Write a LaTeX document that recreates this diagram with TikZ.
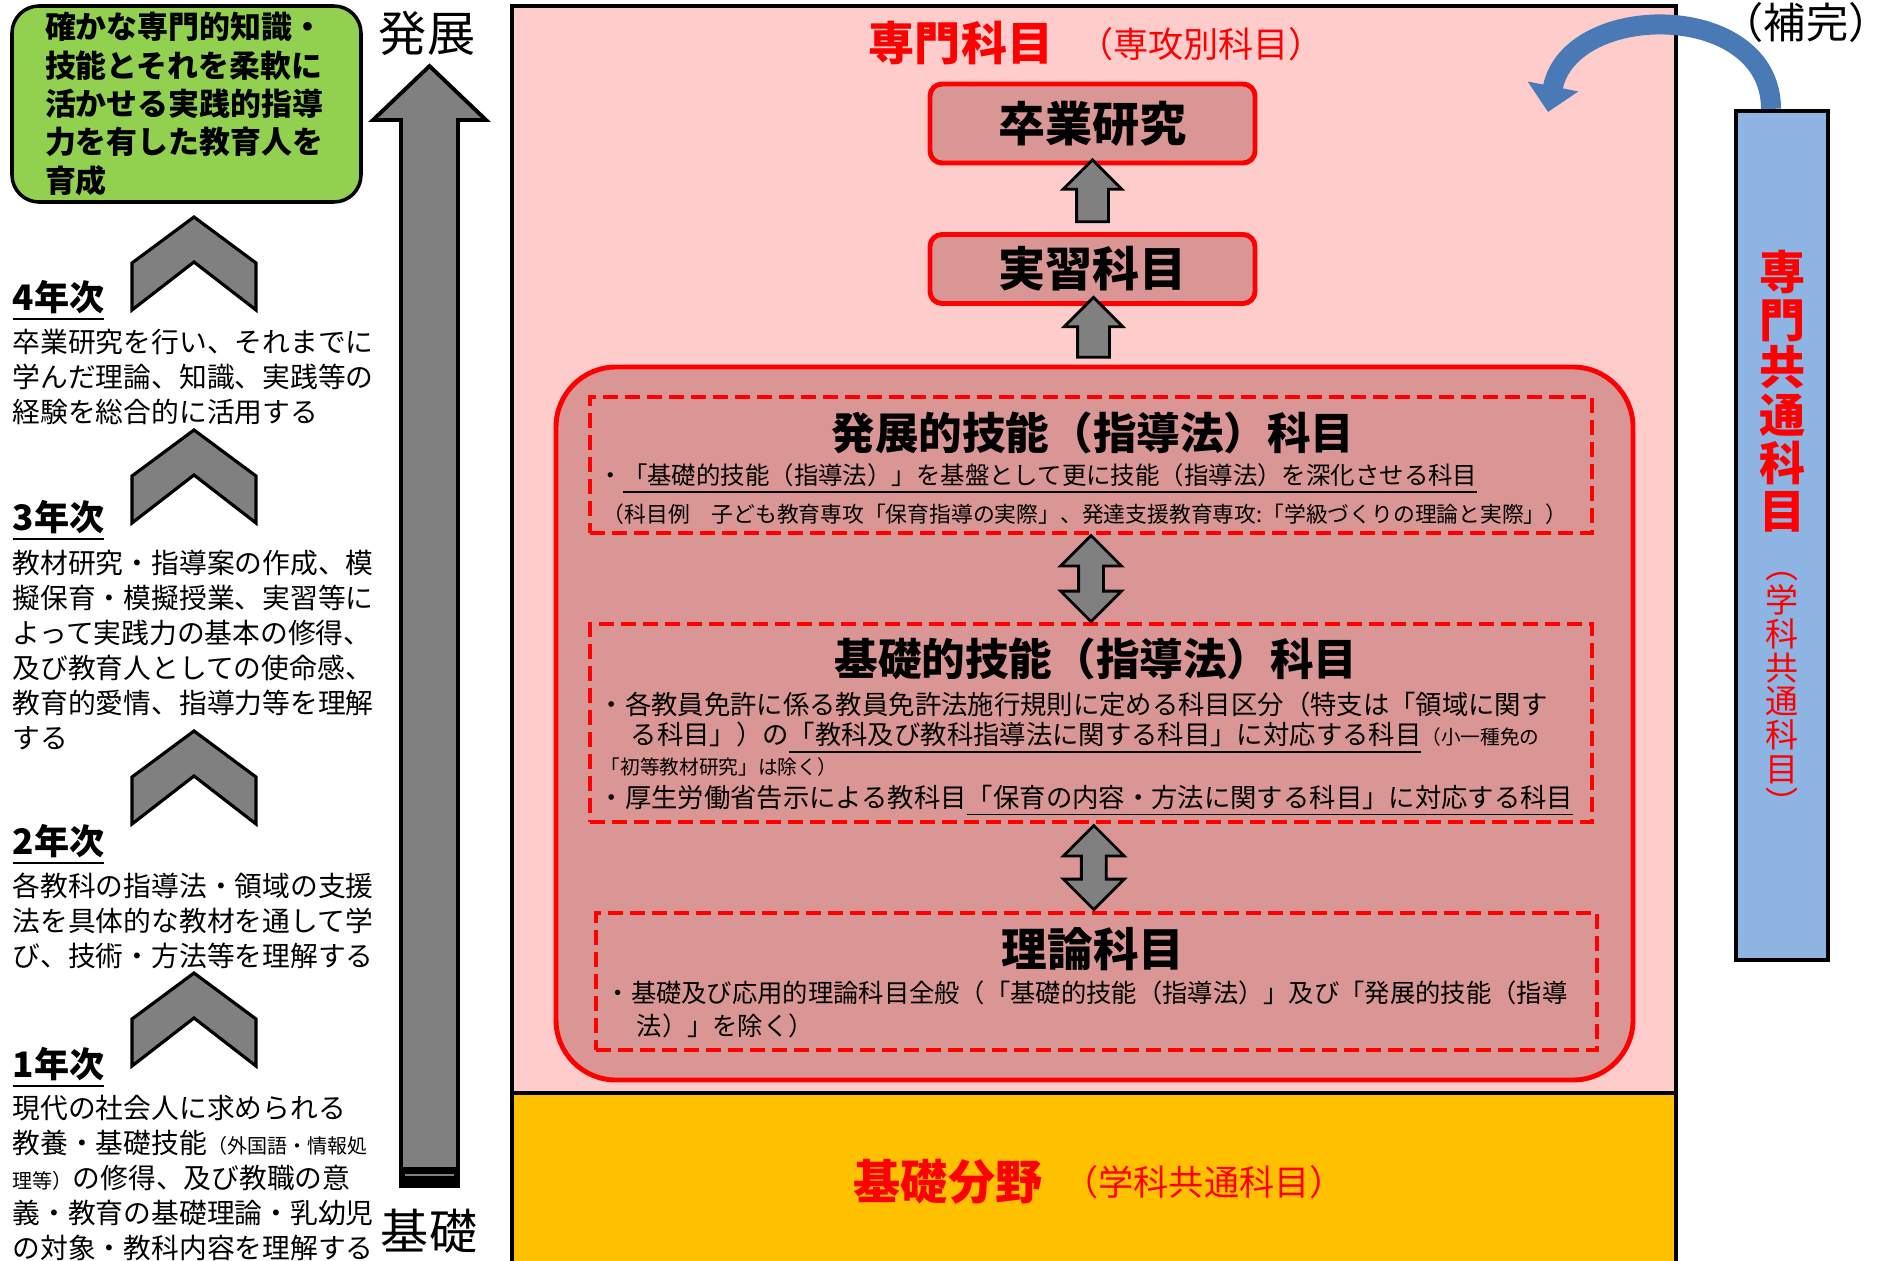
\documentclass[tikz,border=0pt]{standalone}
\usepackage{fontspec}
\setmainfont{Noto Sans CJK JP}
\usetikzlibrary{calc,shapes.arrows,arrows.meta}
\definecolor{goalgreen}{HTML}{92D050}
\definecolor{senmonpink}{HTML}{FFCCCC}
\definecolor{kamokurose}{HTML}{D99694}
\definecolor{kisoyellow}{HTML}{FFC000}
\definecolor{kyotsublue}{HTML}{8EB4E3}
\definecolor{hokanblue}{HTML}{4A7AB5}
\definecolor{arrowgray}{HTML}{808080}

\begin{document}
\begin{tikzpicture}[
    every node/.style={inner sep=0pt},
    goalbox/.style={draw=black, line width=1pt, fill=goalgreen, rounded corners=0.27cm,
      minimum width=3.49cm, minimum height=1.96cm, text width=2.83cm, inner xsep=0.33cm,
      align=left, font=\fontsize{8.8}{10.9}\selectfont\bfseries},
    sidelbl/.style={font=\fontsize{13.7}{16}\selectfont},
    yearlbl/.style={anchor=west, font=\fontsize{10}{12}\selectfont\bfseries},
    yeartxt/.style={anchor=west, align=left, font=\fontsize{7.9}{10}\selectfont},
    chev/.style={draw=black, line width=0.9pt, fill=arrowgray},
    bigarrow/.style={draw=black, line width=1.1pt, fill=arrowgray},
    areabox/.style={draw=black, line width=1.2pt},
    titlered/.style={text=red, font=\fontsize{13.1}{15}\selectfont\bfseries},
    subred/.style={text=red, font=\fontsize{10}{12}\selectfont},
    kamokubox/.style={draw=red, line width=1.4pt, fill=kamokurose, rounded corners=0.12cm,
      minimum width=3.25cm, font=\fontsize{13.4}{16}\selectfont\bfseries},
    dashbox/.style={draw=red, line width=1.1pt, dash pattern=on 0.15cm off 0.07cm},
    boxttl/.style={font=\fontsize{12.4}{15}\selectfont\bfseries},
    boxline/.style={anchor=west},
    uparrow/.style={single arrow, draw=black, fill=arrowgray, line width=0.8pt, rotate=90,
      inner xsep=0pt, inner ysep=0.145cm, single arrow head extend=0.135cm,
      single arrow head indent=0pt},
    updown/.style={double arrow, draw=black, fill=arrowgray, line width=0.8pt, rotate=90,
      inner xsep=0pt, inner ysep=0.11cm, double arrow head extend=0.18cm,
      double arrow head indent=0pt},
    vertred/.style={text=red, align=center, font=\fontsize{13.1}{13.6}\selectfont\bfseries},
    vertsub/.style={text=red, align=center, font=\fontsize{9.4}{9.6}\selectfont},
    hokanarrow/.style={draw=hokanblue, line width=0.2cm,
      -{Triangle[width=0.5cm,length=0.26cm]}}
  ]
  \useasboundingbox (0,0) rectangle (18.88,12.6);

  % left column: goal, growth arrow, years
  \node[goalbox] (goal) at (1.865,11.56) {確かな専門的知識・\\技能とそれを柔軟に\\活かせる実践的指導\\力を有した教育人を\\育成};
  \draw[bigarrow] (4.01,0.74) -- (4.01,11.40) -- (3.73,11.40) -- (4.295,11.94)
    -- (4.86,11.40) -- (4.58,11.40) -- (4.58,0.74) -- cycle;
  \fill (4.01,0.74) rectangle (4.58,0.93);
  \draw[arrowgray, line width=0.4pt] (4.05,0.85) -- (4.54,0.85);
  \node[sidelbl] (hattenlbl) at (4.27,12.27) {発展};
  \node[sidelbl] (kisolbl) at (4.29,0.29) {基礎};
  \foreach \ay in {10.43,8.30,5.29,2.87}
    \draw[chev] (1.94,\ay) -- ++(0.62,-0.46) -- ++(0,-0.47) -- ++(-0.62,0.48)
      -- ++(-0.62,-0.48) -- ++(0,0.47) -- cycle;

  \node[yearlbl] (y4) at (0.12,9.59) {\underline{4年次}};
  \node[yeartxt] (y4txt) at (0.12,8.83) {卒業研究を行い、それまでに\\学んだ理論、知識、実践等の\\経験を総合的に活用する};
  \node[yearlbl] (y3) at (0.12,7.39) {\underline{3年次}};
  \node[yeartxt] (y3txt) at (0.12,6.10) {教材研究・指導案の作成、模\\擬保育・模擬授業、実習等に\\よって実践力の基本の修得、\\及び教育人としての使命感、\\教育的愛情、指導力等を理解\\する};
  \node[yearlbl] (y2) at (0.12,4.15) {\underline{2年次}};
  \node[yeartxt] (y2txt) at (0.12,3.39) {各教科の指導法・領域の支援\\法を具体的な教材を通して学\\び、技術・方法等を理解する};
  \node[yearlbl] (y1) at (0.12,1.92) {\underline{1年次}};
  \node[yeartxt] (y1txt) at (0.12,0.82) {現代の社会人に求められる\\教養・基礎技能{\fontsize{5.7}{7}\selectfont（外国語・情報処}\\{\fontsize{5.7}{7}\selectfont 理等）}の修得、及び教職の意\\義・教育の基礎理論・乳幼児\\の対象・教科内容を理解する};

  % right part: subject areas
  \node[areabox, fill=senmonpink, minimum width=11.64cm, minimum height=10.87cm] (senmon) at (10.94,7.105) {};
  \node[areabox, fill=kisoyellow, minimum width=11.64cm, minimum height=1.72cm] (kisobunya) at (10.94,0.81) {};
  \node[titlered] (senmonttl) at (9.61,12.17) {専門科目};
  \node[subred] (senmonsub) at (12.01,12.16) {（専攻別科目）};
  \node[kamokubox, minimum height=0.79cm] (sotsu) at (10.925,11.365) {卒業研究};
  \node[kamokubox, minimum height=0.69cm] (jisshu) at (10.925,9.91) {実習科目};
  \node[draw=red, line width=1.4pt, fill=kamokurose, rounded corners=0.6cm,
    minimum width=10.77cm, minimum height=7.13cm] (gino) at (10.945,5.365) {};
  \node[uparrow, minimum height=0.62cm] (arr1) at ($(jisshu.north)!0.5!(sotsu.south)$) {};
  \node[uparrow, minimum height=0.60cm] (arr2) at ($(gino.north)!0.5!(jisshu.south)$) {};

  \node[dashbox, minimum width=10.02cm, minimum height=1.36cm] (hattenbox) at (10.91,7.95) {};
  \node[boxttl] (hattenttl) at (10.93,8.27) {発展的技能（指導法）科目};
  \node[boxline, font=\fontsize{6.95}{8}\selectfont] (hl1) at (5.98,7.81) {・\underline{「基礎的技能（指導法）」を基盤として更に技能（指導法）を深化させる科目}};
  \node[boxline, font=\fontsize{6.2}{7}\selectfont] (hl2) at (6.02,7.46) {（科目例　子ども教育専攻「保育指導の実際」、発達支援教育専攻:「学級づくりの理論と実際」）};

  \node[dashbox, minimum width=10.02cm, minimum height=1.98cm] (kisobox) at (10.91,5.37) {};
  \node[boxttl] (kisottl) at (10.96,6.01) {基礎的技能（指導法）科目};
  \node[boxline, font=\fontsize{7.5}{8}\selectfont] (kl1) at (5.98,5.56) {・各教員免許に係る教員免許法施行規則に定める科目区分（特支は「領域に関す};
  \node[boxline, font=\fontsize{7.5}{8}\selectfont] (kl2) at (6.30,5.22) {る科目」）の\underline{「教科及び教科指導法に関する科目」に対応する科目}{\fontsize{5.6}{7}\selectfont（小一種免の}};
  \node[boxline, font=\fontsize{5.6}{7}\selectfont] (kl3) at (6.00,4.93) {「初等教材研究」は除く）};
  \node[boxline, font=\fontsize{7.5}{8}\selectfont] (kl4) at (5.98,4.59) {・厚生労働省告示による教科目\underline{「保育の内容・方法に関する科目」に対応する科目}};

  \node[dashbox, minimum width=10.01cm, minimum height=1.37cm] (rironbox) at (10.965,2.785) {};
  \node[boxttl, font=\fontsize{13}{15}\selectfont\bfseries] (rironttl) at (10.93,3.11) {理論科目};
  \node[boxline, font=\fontsize{7.2}{8}\selectfont] (rl1) at (6.05,2.67) {・基礎及び応用的理論科目全般（「基礎的技能（指導法）」及び「発展的技能（指導};
  \node[boxline, font=\fontsize{7.2}{8}\selectfont] (rl2) at (6.36,2.34) {法）」を除く）};

  \node[updown, minimum height=0.86cm] (arr3) at ($(hattenbox.south)!0.5!(kisobox.north)$) {};
  \node[updown, minimum height=0.84cm] (arr4) at ($(kisobox.south)!0.5!(rironbox.north)$) {};

  \node[titlered, font=\fontsize{13.4}{15}\selectfont\bfseries] (kisottl2) at (9.48,0.78) {基礎分野};
  \node[subred] (kisosub) at (12.04,0.78) {（学科共通科目）};

  % common subjects bar and its arrow
  \node[areabox, fill=kyotsublue, minimum width=0.92cm, minimum height=8.49cm] (kyotsu) at (17.82,7.245) {};
  \node[vertred] (kyotsuttl) at (17.82,8.69) {専\\門\\共\\通\\科\\目};
  \node[vertsub] (kyotsusub) at (17.82,5.66) {︵\\学\\科\\共\\通\\科\\目\\︶};
  \node[font=\fontsize{12}{14}\selectfont] (hokan) at (18.06,12.38) {（補完）};
  \coordinate (hokanend) at (15.48,11.48);
  \draw[hokanarrow] ([xshift=-0.11cm]kyotsu.north) .. controls (17.71,12.6) and (15.7,12.6) .. (hokanend);
\end{tikzpicture}
\end{document}
